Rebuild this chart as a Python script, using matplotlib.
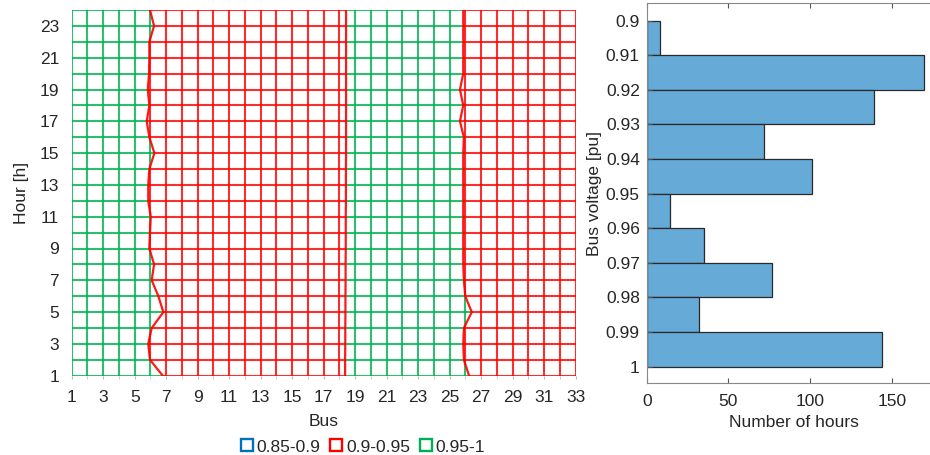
import numpy as np
import matplotlib
matplotlib.use('Agg')
import matplotlib.pyplot as plt
from matplotlib.collections import LineCollection
from matplotlib.lines import Line2D

plt.rcParams['font.family'] = ['Liberation Sans', 'DejaVu Sans']

# ---------------- data ----------------
buses = list(range(1, 34))
hours = list(range(1, 25))
bus_ticks = list(range(1, 34, 2))
hour_ticks = list(range(1, 24, 2))

# contour boundaries (bus position) per hour 1..24
edge_low = [6.78, 5.97, 5.86, 6.08, 6.82, 6.50, 6.08, 6.23, 5.93, 5.97, 6.02, 5.86,
            5.86, 5.93, 6.25, 5.93, 5.76, 5.93, 5.83, 5.91, 5.93, 5.93, 6.23, 5.97]
edge_mid = [18.36, 18.36, 18.37, 18.37, 18.38, 18.38, 18.39, 18.39, 18.40, 18.40, 18.40, 18.41,
            18.41, 18.41, 18.42, 18.42, 18.42, 18.42, 18.42, 18.42, 18.42, 18.42, 18.42, 18.42]
edge_high = [26.23, 25.90, 25.86, 25.90, 26.40, 25.99, 25.90, 25.86, 25.86, 25.86, 25.86, 25.86,
             25.86, 25.86, 25.86, 25.90, 25.65, 25.86, 25.65, 25.86, 25.86, 25.86, 25.86, 25.86]

legend_labels = ['0.85-0.9', '0.9-0.95', '0.95-1']
legend_colors = ['#0072BD', '#FF0000', '#00B050']

bin_edges = [0.90, 0.91, 0.92, 0.93, 0.94, 0.95, 0.96, 0.97, 0.98, 0.99, 1.00]
hour_counts = [8, 170, 139, 72, 101, 14, 35, 77, 32, 144]
volt_tick_labels = ['0.9', '0.91', '0.92', '0.93', '0.94', '0.95', '0.96', '0.97', '0.98', '0.99', '1']

RED = '#FF0000'
GREEN = '#00B050'
TXT = '#262626'
FS = 12.5

fig = plt.figure(figsize=(9.3, 4.55), dpi=100)

# ---------------- left: mesh map ----------------
ax = fig.add_axes([71.7 / 930, (455 - 375.7) / 455, 504 / 930, 365.7 / 455])

def region_color(x, b1, b2, b3):
    if x < b1:
        return GREEN
    if x < b2:
        return RED
    if x < b3:
        return GREEN
    return RED

segs, cols = [], []
# horizontal lines
for i, h in enumerate(hours):
    pts = [buses[0], edge_low[i], edge_mid[i], edge_high[i], buses[-1]]
    for k in range(4):
        segs.append([(pts[k], h), (pts[k + 1], h)])
        cols.append(GREEN if k % 2 == 0 else RED)
# vertical lines
nsub = 12
for j in buses:
    for i in range(len(hours) - 1):
        h0, h1 = hours[i], hours[i + 1]
        for s in range(nsub):
            t0, t1 = s / nsub, (s + 1) / nsub
            tm = (t0 + t1) / 2
            b1 = edge_low[i] + (edge_low[i + 1] - edge_low[i]) * tm
            b2 = edge_mid[i] + (edge_mid[i + 1] - edge_mid[i]) * tm
            b3 = edge_high[i] + (edge_high[i + 1] - edge_high[i]) * tm
            segs.append([(j, h0 + (h1 - h0) * t0), (j, h0 + (h1 - h0) * t1)])
            cols.append(region_color(j, b1, b2, b3))

lc = LineCollection(segs, colors=cols, linewidths=1.5, alpha=0.82, capstyle='butt')
ax.add_collection(lc)
for edge in (edge_low, edge_mid, edge_high):
    ax.plot(edge, hours, color=RED, lw=1.6, alpha=0.9)

ax.set_xlim(buses[0], buses[-1])
ax.set_ylim(hours[0], hours[-1])
for sp in ax.spines.values():
    sp.set_visible(False)
ax.set_xticks(bus_ticks)
ax.set_xticks(buses, minor=True)
ax.set_yticks(hour_ticks)
ax.tick_params(axis='x', which='both', direction='out', length=2.5, color='#BBBBBB',
               pad=8, labelsize=FS, labelcolor=TXT)
ax.tick_params(axis='y', which='both', length=0, pad=9, labelsize=FS, labelcolor=TXT)
ax.set_xlabel('Bus', fontsize=FS, color=TXT, labelpad=6)
ax.set_ylabel('Hour [h]', fontsize=FS, color=TXT, labelpad=8)

handles = [Line2D([], [], marker='s', ls='none', mfc='none', mec=c, ms=8, mew=1.7)
           for c in legend_colors]
fig.legend(handles, legend_labels, loc='center', bbox_to_anchor=(363 / 930, 1 - 447 / 455),
           ncol=3, frameon=False, fontsize=FS, handlelength=0.7, handletextpad=0.22,
           columnspacing=0.55, labelcolor=TXT, borderpad=0, borderaxespad=0)

# ---------------- right: histogram ----------------
ax2 = fig.add_axes([646.7 / 930, (455 - 383.3) / 455, (940.7 - 646.7) / 930, 380.6 / 455])
ax2.barh(bin_edges[:-1], hour_counts, height=0.01, align='edge',
         color='#66AAD7', edgecolor='#2A2A2A', linewidth=0.9)
ax2.set_xlim(0, 180)
ax2.set_ylim(1.0048, 0.8948)
ax2.set_yticks(bin_edges)
ax2.set_yticklabels(volt_tick_labels)
ax2.set_xticks([0, 50, 100, 150])
for sp in ax2.spines.values():
    sp.set_color('#888888')
    sp.set_linewidth(0.8)
ax2.tick_params(axis='both', direction='in', length=3.5, color='#555555',
                labelsize=FS, labelcolor=TXT, top=True, right=True)
ax2.tick_params(axis='x', pad=8)
ax2.tick_params(axis='y', pad=5)
ax2.set_xlabel('Number of hours', fontsize=FS, color=TXT, labelpad=4)
ax2.set_ylabel('Bus voltage [pu]', fontsize=FS, color=TXT, labelpad=3)

fig.savefig('out.png', dpi=100)
